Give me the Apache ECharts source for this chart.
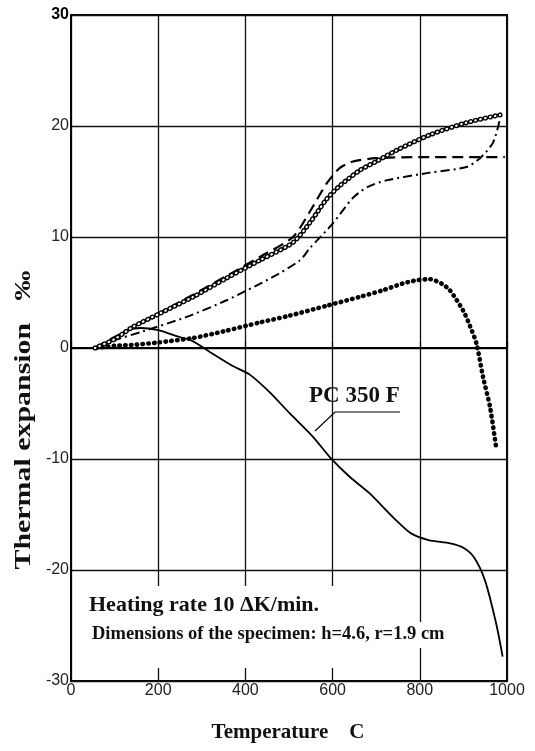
<!DOCTYPE html>
<html>
<head>
<meta charset="utf-8">
<script src="https://cdn.jsdelivr.net/npm/echarts@6/dist/echarts.min.js"></script>
<style>
  html, body { margin: 0; padding: 0; background: #fff; }
  #chart { width: 535px; height: 751px; }
</style>
</head>
<body>
<div id="chart"></div>
<script>
// Thermal expansion (per mille) against temperature (C), five specimens
const xTicks = [0, 200, 400, 600, 800, 1000];
const yTicks = [-30, -20, -10, 0, 10, 20, 30];

// PC 350 F (solid line)
const pc350f = [
  [55, 0], [100, 0.9], [130, 1.6], [160, 1.8], [200, 1.6], [240, 1.1], [280, 0.6],
  [320, -0.4], [370, -1.6], [410, -2.4], [456, -4.0], [502, -5.9], [555, -8.0],
  [593, -9.8], [639, -11.6], [685, -13.1], [740, -15.3], [780, -16.7], [820, -17.3],
  [870, -17.6], [900, -18.0], [925, -18.9], [950, -21.0], [975, -24.8], [990, -27.8]
];
// long dashes
const dashedCurve = [
  [55, 0], [100, 1.0], [150, 2.0], [200, 3.1], [280, 4.8], [357, 6.5], [433, 8.2],
  [509, 10.0], [548, 12.3], [586, 14.8], [616, 16.2], [647, 16.8], [700, 17.1],
  [800, 17.2], [900, 17.2], [995, 17.2]
];
// open circles
const circleCurve = [
  [55, 0], [100, 0.8], [142, 1.9], [203, 3.1], [280, 4.6], [357, 6.3], [433, 7.9],
  [509, 9.5], [548, 11.3], [586, 13.4], [616, 14.6], [662, 16.0], [700, 16.8],
  [746, 17.8], [823, 19.2], [907, 20.3], [984, 21.0]
];
// dash-dot
const dashDotCurve = [
  [55, 0], [100, 0.7], [165, 1.5], [265, 2.8], [357, 4.3], [463, 6.4], [525, 7.9],
  [548, 9.0], [600, 11.2], [646, 13.5], [680, 14.5], [723, 15.1], [823, 15.8],
  [907, 16.3], [938, 17.1], [968, 18.5], [985, 20.8]
];
// filled dots
const dotCurve = [
  [58, 0], [100, 0.2], [150, 0.3], [200, 0.5], [280, 0.9], [350, 1.5], [433, 2.3],
  [500, 2.9], [586, 3.8], [662, 4.6], [715, 5.2], [760, 5.8], [792, 6.1], [823, 6.2],
  [850, 5.8], [869, 5.2], [899, 3.4], [915, 2.0], [930, 0.4], [945, -2.6],
  [961, -5.3], [976, -9.2]
];

const serif = 'Liberation Serif';
const sans = 'Liberation Sans';

function curve(data, style, z) {
  return {
    type: 'line', data: data, symbol: 'none', smooth: 0.25,
    lineStyle: Object.assign({ color: '#000' }, style), z: z || 3,
    silent: true, animation: false
  };
}

const chart = echarts.init(document.getElementById('chart'), null, { renderer: 'canvas' });
chart.setOption({
  animation: false,
  backgroundColor: '#fff',
  grid: { left: 71, right: 28, top: 15, bottom: 70, show: true, borderColor: '#000', borderWidth: 2 },
  xAxis: {
    type: 'value', min: xTicks[0], max: xTicks[xTicks.length - 1], interval: 200,
    axisLine: { lineStyle: { color: '#000', width: 2 } },
    axisTick: { inside: true, length: 6, lineStyle: { color: '#000', width: 1.2 } },
    splitLine: { lineStyle: { color: '#111', width: 1.3 } },
    axisLabel: { fontFamily: sans, fontSize: 16, color: '#222', margin: 2, formatter: v => String(v) }
  },
  yAxis: {
    type: 'value', min: yTicks[0], max: yTicks[yTicks.length - 1], interval: 10,
    axisLine: { lineStyle: { color: '#000', width: 2 } },
    axisTick: { show: false },
    splitLine: { lineStyle: { color: '#111', width: 1.3 } },
    axisLabel: {
      fontFamily: sans, fontSize: 16, color: '#222', margin: 2,
      formatter: v => (v === 30 ? '{top|30}' : String(v)),
      rich: { top: { fontFamily: sans, fontSize: 16, fontWeight: 'bold', color: '#000' } }
    }
  },
  series: [
    curve(pc350f, { width: 1.8 }),
    curve(dashedCurve, { width: 2.2, type: [11, 6] }),
    curve(dashDotCurve, { width: 2, type: [9, 4, 2, 4] }),
    // rings: black dots with white centres
    curve(circleCurve, { width: 5, type: [0.5, 4.5], cap: 'round' }, 4),
    curve(circleCurve, { width: 2.2, type: [0.5, 4.5], cap: 'round', color: '#fff' }, 5),
    curve(dotCurve, { width: 4.6, type: [0.5, 5.3], cap: 'round' }, 4)
  ],
  graphic: [
    // white panel behind the test conditions
    { type: 'rect', z: 1, shape: { x: 74, y: 586, width: 342, height: 82 }, style: { fill: '#fff' } },
    { type: 'rect', z: 1, shape: { x: 414, y: 622, width: 40, height: 26 }, style: { fill: '#fff' } },
    { type: 'text', z: 10, left: 89, top: 594,
      style: { text: 'Heating rate 10 ΔK/min.', font: 'bold 22px "' + serif + '"', fill: '#111' } },
    { type: 'text', z: 10, left: 92, top: 625,
      style: { text: 'Dimensions of the specimen: h=4.6, r=1.9 cm', font: 'bold 18.5px "' + serif + '"', fill: '#111' } },
    { type: 'text', z: 10, left: 309, top: 385,
      style: { text: 'PC 350 F', font: 'bold 23px "' + serif + '"', fill: '#111' } },
    { type: 'polyline', z: 10, shape: { points: [[315, 431], [335, 412], [400, 412]] },
      style: { stroke: '#000', lineWidth: 1.2, fill: null } },
    { type: 'text', z: 10, x: 24, y: 420, rotation: Math.PI / 2, scaleX: 1.3,
      style: { text: 'Thermal expansion   ‰', font: 'bold 23px "' + serif + '"', fill: '#111',
               align: 'center', verticalAlign: 'middle' } },
    { type: 'text', z: 10, x: 288, y: 733,
      style: { text: 'Temperature    C', font: 'bold 21px "' + serif + '"', fill: '#111',
               align: 'center', verticalAlign: 'middle' } }
  ]
});
</script>
</body>
</html>
